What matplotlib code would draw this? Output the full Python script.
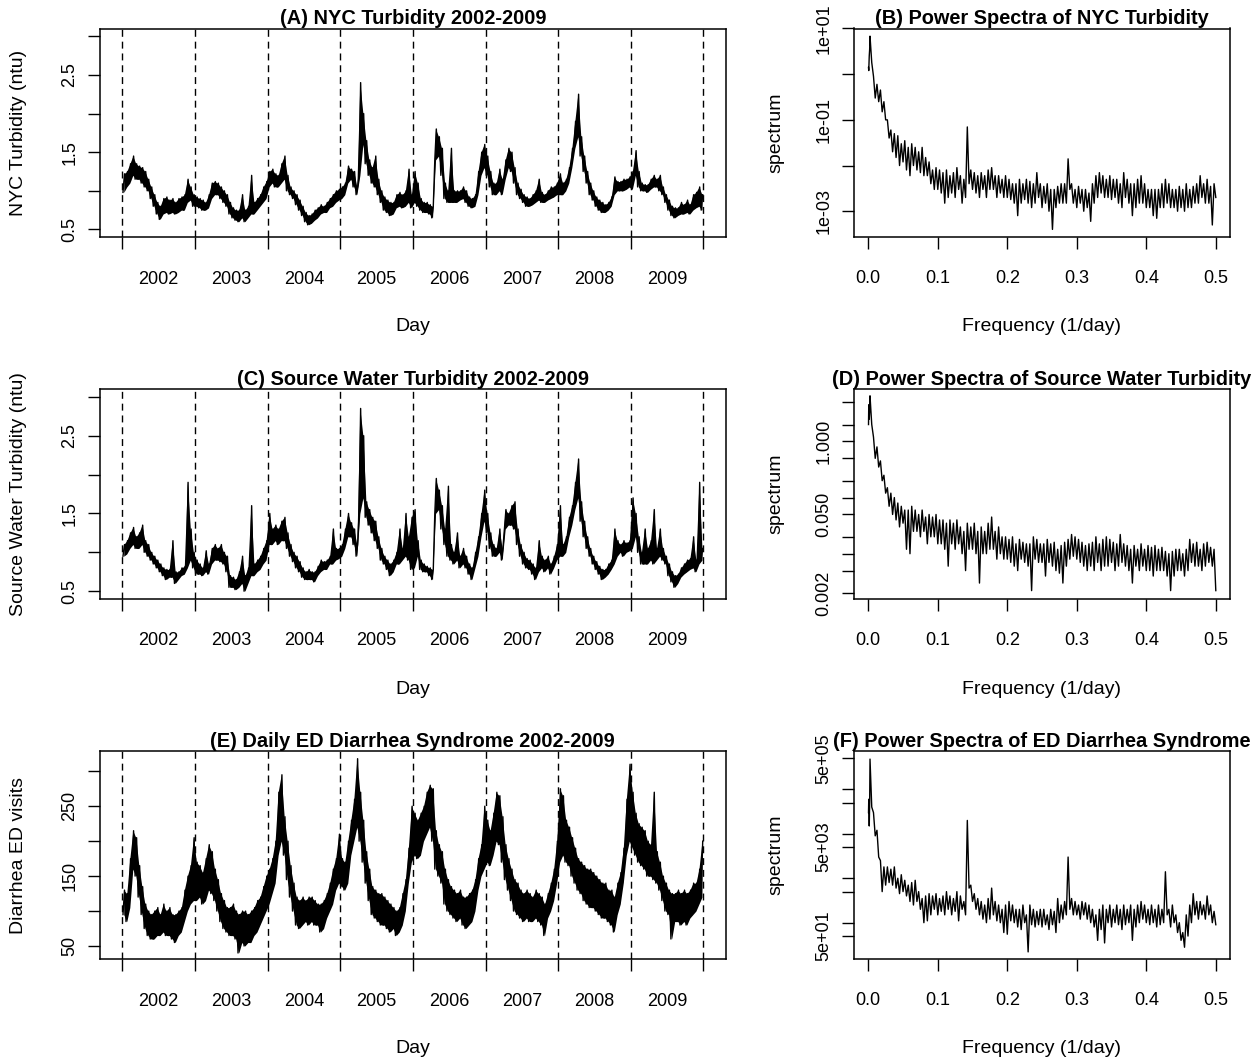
import numpy as np
import matplotlib
matplotlib.use("Agg")
import matplotlib.pyplot as plt
from matplotlib.ticker import NullLocator

plt.rcParams["font.family"] = ["Liberation Sans", "DejaVu Sans"]

years = [2002, 2003, 2004, 2005, 2006, 2007, 2008, 2009]
year_labels = [str(y) for y in years]

# daily series, read as low / high envelope per half-month (24 per year)
nyc_lo = [
    0.98, 1.05, 1.10, 1.20, 1.15, 1.15, 1.10, 1.05, 1.00, 0.90, 0.80, 0.70,
    0.63, 0.70, 0.72, 0.70, 0.72, 0.70, 0.72, 0.75, 0.75, 0.85, 0.88, 0.80,
    0.80, 0.78, 0.75, 0.75, 0.78, 0.90, 0.95, 0.95, 0.90, 0.85, 0.80, 0.70,
    0.65, 0.62, 0.60, 0.65, 0.60, 0.65, 0.70, 0.70, 0.75, 0.80, 0.85, 0.90,
    1.05, 1.10, 1.05, 1.05, 1.10, 1.15, 1.00, 0.95, 0.90, 0.82, 0.75, 0.68,
    0.60, 0.56, 0.58, 0.62, 0.65, 0.70, 0.72, 0.72, 0.78, 0.80, 0.85, 0.88,
    0.90, 0.95, 1.10, 1.15, 1.05, 0.95, 1.20, 1.60, 1.35, 1.20, 1.10, 1.05,
    0.95, 0.85, 0.75, 0.72, 0.68, 0.70, 0.78, 0.80, 0.78, 0.80, 0.85, 0.78,
    0.85, 0.80, 0.75, 0.72, 0.72, 0.70, 0.65, 1.40, 1.45, 1.20, 0.90, 0.85,
    0.85, 0.85, 0.85, 0.88, 0.90, 0.85, 0.80, 0.78, 0.80, 0.95, 1.20, 1.30,
    1.20, 1.05, 0.95, 0.95, 1.00, 0.95, 1.15, 1.30, 1.25, 1.10, 0.95, 0.90,
    0.85, 0.80, 0.80, 0.82, 0.85, 0.88, 0.85, 0.85, 0.88, 0.90, 0.92, 0.95,
    0.95, 0.95, 1.00, 1.10, 1.30, 1.55, 1.70, 1.45, 1.25, 1.10, 0.95, 0.88,
    0.80, 0.75, 0.72, 0.72, 0.75, 0.80, 0.95, 1.00, 1.00, 1.00, 1.02, 1.05,
    1.02, 1.20, 1.05, 1.00, 1.00, 0.98, 1.02, 1.05, 1.05, 1.00, 0.95, 0.85,
    0.75, 0.68, 0.65, 0.68, 0.70, 0.70, 0.72, 0.70, 0.75, 0.78, 0.80, 0.75,
]
nyc_hi = [
    1.22, 1.25, 1.35, 1.45, 1.35, 1.32, 1.30, 1.25, 1.15, 1.05, 0.95, 0.85,
    0.80, 0.90, 0.92, 0.88, 0.90, 0.85, 0.90, 0.92, 0.95, 1.15, 1.05, 0.95,
    0.92, 0.90, 0.88, 0.85, 0.95, 1.10, 1.12, 1.10, 1.05, 1.00, 0.95, 0.85,
    0.78, 0.75, 0.75, 0.95, 0.75, 0.80, 1.20, 0.85, 0.90, 0.95, 1.05, 1.12,
    1.25, 1.28, 1.22, 1.20, 1.35, 1.45, 1.20, 1.05, 1.00, 0.95, 0.88, 0.80,
    0.72, 0.68, 0.70, 0.75, 0.78, 0.82, 0.80, 0.85, 0.90, 0.95, 1.00, 1.02,
    1.05, 1.10, 1.32, 1.28, 1.25, 1.05, 2.40, 2.00, 1.65, 1.40, 1.30, 1.45,
    1.15, 1.00, 0.92, 0.88, 0.85, 0.85, 0.95, 0.98, 0.95, 1.00, 1.28, 0.95,
    1.25, 1.10, 0.90, 0.85, 0.85, 0.82, 0.80, 1.80, 1.70, 1.55, 1.10, 1.00,
    1.55, 1.00, 1.00, 1.00, 1.05, 1.00, 0.92, 0.90, 0.95, 1.25, 1.50, 1.60,
    1.45, 1.25, 1.10, 1.10, 1.28, 1.15, 1.40, 1.55, 1.50, 1.30, 1.10, 1.02,
    0.95, 0.92, 0.90, 0.95, 1.00, 1.15, 0.98, 0.95, 1.00, 1.05, 1.05, 1.10,
    1.22, 1.10, 1.15, 1.30, 1.55, 1.90, 2.25, 1.70, 1.45, 1.25, 1.10, 1.00,
    0.92, 0.88, 0.85, 0.82, 0.85, 0.92, 1.18, 1.12, 1.12, 1.15, 1.15, 1.18,
    1.25, 1.52, 1.25, 1.10, 1.08, 1.08, 1.15, 1.20, 1.15, 1.20, 1.05, 0.95,
    0.88, 0.80, 0.78, 0.78, 0.85, 0.82, 0.88, 0.82, 0.95, 0.98, 1.05, 0.95,
]

src_lo = [
    0.95, 0.98, 1.05, 1.10, 1.05, 1.05, 1.10, 1.00, 0.95, 0.90, 0.85, 0.80,
    0.75, 0.70, 0.65, 0.68, 0.68, 0.60, 0.65, 0.70, 0.72, 0.80, 0.90, 0.80,
    0.72, 0.72, 0.70, 0.75, 0.72, 0.85, 0.90, 0.90, 0.88, 0.85, 0.75, 0.55,
    0.55, 0.52, 0.55, 0.60, 0.50, 0.60, 0.70, 0.70, 0.75, 0.78, 0.85, 0.90,
    1.10, 1.10, 1.15, 1.10, 1.15, 1.15, 1.05, 0.95, 0.88, 0.80, 0.75, 0.68,
    0.65, 0.65, 0.65, 0.62, 0.70, 0.75, 0.78, 0.78, 0.85, 0.85, 0.90, 0.92,
    0.95, 1.05, 1.20, 1.20, 1.10, 0.95, 1.50, 1.70, 1.45, 1.35, 1.25, 1.15,
    1.05, 0.90, 0.85, 0.78, 0.70, 0.75, 0.85, 0.85, 0.90, 0.95, 0.90, 0.78,
    0.80, 0.95, 0.78, 0.75, 0.75, 0.70, 0.65, 1.50, 1.55, 1.30, 1.10, 0.95,
    0.90, 0.85, 0.90, 0.80, 0.85, 0.80, 0.72, 0.65, 0.80, 0.95, 1.20, 1.40,
    1.25, 1.05, 0.95, 0.95, 1.00, 0.90, 1.30, 1.35, 1.35, 1.30, 1.10, 0.95,
    0.85, 0.80, 0.78, 0.72, 0.65, 0.75, 0.80, 0.75, 0.80, 0.72, 0.80, 0.90,
    0.95, 0.95, 1.00, 1.20, 1.35, 1.55, 1.70, 1.40, 1.20, 1.05, 0.95, 0.85,
    0.78, 0.72, 0.65, 0.68, 0.72, 0.78, 0.85, 0.95, 1.00, 0.95, 1.00, 1.02,
    1.05, 1.20, 1.00, 0.85, 0.85, 0.85, 0.90, 0.85, 0.90, 0.95, 0.90, 0.85,
    0.70, 0.62, 0.55, 0.60, 0.68, 0.72, 0.75, 0.78, 0.80, 0.75, 0.85, 0.90,
]
src_hi = [
    1.10, 1.15, 1.25, 1.32, 1.20, 1.25, 1.35, 1.15, 1.10, 1.00, 0.95, 0.90,
    0.85, 0.80, 0.78, 0.78, 1.15, 0.75, 0.75, 0.80, 0.82, 1.90, 1.30, 1.00,
    0.90, 0.85, 0.80, 1.02, 0.85, 1.05, 1.10, 1.05, 1.10, 1.00, 0.95, 0.70,
    0.68, 0.65, 0.75, 0.95, 0.70, 0.80, 1.60, 0.85, 0.90, 0.95, 1.05, 1.15,
    1.50, 1.30, 1.35, 1.30, 1.40, 1.45, 1.25, 1.10, 1.00, 0.95, 0.88, 0.80,
    0.75, 0.78, 0.75, 0.75, 0.82, 0.90, 0.88, 0.90, 0.95, 1.30, 1.05, 1.05,
    1.10, 1.30, 1.50, 1.38, 1.30, 1.10, 2.85, 2.50, 1.65, 1.55, 1.45, 1.40,
    1.20, 1.05, 0.95, 0.90, 0.85, 0.90, 1.00, 1.30, 1.05, 1.50, 1.20, 1.45,
    1.55, 1.15, 0.90, 0.85, 0.82, 0.80, 0.78, 1.95, 1.80, 1.60, 1.30, 1.85,
    1.10, 1.00, 1.25, 0.95, 1.05, 0.95, 0.85, 0.80, 1.00, 1.20, 1.50, 1.80,
    1.50, 1.25, 1.10, 1.05, 1.30, 1.05, 1.55, 1.50, 1.60, 1.65, 1.30, 1.10,
    1.00, 0.92, 0.90, 0.85, 0.80, 1.15, 0.95, 0.90, 0.95, 0.85, 0.95, 1.10,
    1.60, 1.10, 1.20, 1.45, 1.60, 1.90, 2.20, 1.65, 1.40, 1.20, 1.05, 0.95,
    0.88, 0.82, 0.78, 0.78, 0.85, 0.90, 1.30, 1.15, 1.10, 1.15, 1.12, 1.15,
    1.70, 1.50, 1.20, 1.00, 1.30, 1.05, 1.15, 1.55, 1.05, 1.30, 1.05, 0.95,
    0.85, 0.75, 0.70, 0.72, 0.80, 0.85, 0.90, 0.92, 1.20, 0.90, 1.90, 1.05,
]

ed_lo = [
    95, 85, 105, 160, 150, 120, 95, 75, 65, 60, 60, 65,
    65, 70, 65, 65, 60, 55, 65, 70, 85, 100, 110, 115,
    115, 120, 110, 115, 130, 125, 115, 100, 85, 75, 70, 65,
    65, 60, 40, 55, 50, 55, 55, 65, 70, 80, 90, 100,
    110, 125, 140, 180, 200, 180, 145, 120, 100, 80, 75, 80,
    85, 80, 85, 80, 80, 70, 75, 90, 100, 110, 130, 140,
    135, 130, 140, 180, 200, 220, 200, 170, 140, 115, 95, 90,
    85, 80, 80, 75, 70, 75, 65, 70, 80, 100, 140, 170,
    180, 175, 180, 200, 210, 220, 200, 160, 150, 140, 110, 100,
    95, 90, 85, 90, 80, 75, 80, 85, 100, 130, 150, 160,
    170, 165, 180, 200, 195, 170, 145, 130, 115, 100, 95, 90,
    85, 90, 85, 85, 90, 85, 80, 65, 90, 100, 115, 140,
    170, 180, 170, 165, 150, 140, 130, 125, 115, 110, 105, 105,
    100, 95, 90, 90, 85, 80, 70, 95, 110, 140, 180, 200,
    190, 180, 170, 165, 160, 150, 150, 145, 140, 130, 115, 100,
    95, 60, 85, 85, 80, 85, 80, 90, 95, 100, 110, 120,
]
ed_hi = [
    130, 125, 175, 215, 205, 165, 135, 110, 100, 95, 100, 105,
    95, 110, 100, 105, 95, 95, 100, 105, 130, 150, 165, 205,
    170, 165, 155, 175, 195, 185, 160, 145, 125, 115, 105, 105,
    110, 100, 95, 100, 100, 95, 100, 105, 115, 120, 135, 150,
    160, 175, 200, 270, 295, 235, 200, 165, 140, 120, 115, 120,
    115, 120, 120, 115, 110, 110, 115, 125, 140, 160, 175, 210,
    175, 170, 200, 230, 260, 318, 270, 230, 185, 160, 135, 130,
    125, 125, 120, 115, 110, 105, 100, 105, 125, 145, 190, 250,
    240, 230, 240, 250, 270, 280, 275, 215, 195, 185, 160, 145,
    135, 130, 125, 130, 120, 120, 125, 130, 145, 175, 195, 250,
    230, 215, 240, 270, 265, 235, 195, 175, 160, 145, 140, 130,
    125, 130, 125, 120, 130, 125, 120, 110, 125, 140, 160, 200,
    275, 265, 230, 220, 205, 190, 175, 170, 165, 160, 160, 155,
    150, 145, 140, 140, 130, 130, 120, 140, 155, 190, 260, 310,
    270, 240, 225, 220, 215, 200, 195, 270, 185, 170, 150, 140,
    130, 125, 125, 130, 125, 130, 125, 130, 140, 140, 160, 200,
]

# power spectra: a few lowest frequencies, then high / low envelope per 0.005 bin
spec_freq_low = [0.00034, 0.0007, 0.0014, 0.0020]
nyc_spec_low = [1.4, 1.2, 2.5, 3.5]
src_spec_low = [2.0, 4.5, 2.5, 3.5]
ed_spec_low = [30000, 60000, 15000, 50000]

nyc_spec_hi = [
    6.8, 0.9, 0.6, 0.45, 0.25, 0.1, 0.06, 0.05, 0.045, 0.03,
    0.035, 0.025, 0.03, 0.025, 0.02, 0.025, 0.015, 0.012, 0.008, 0.009,
    0.008, 0.007, 0.008, 0.006, 0.007, 0.009, 0.006, 0.005, 0.07, 0.008,
    0.007, 0.006, 0.007, 0.006, 0.008, 0.009, 0.006, 0.006, 0.005, 0.006,
    0.005, 0.004, 0.004, 0.005, 0.004, 0.005, 0.0045, 0.004, 0.007, 0.004,
    0.0035, 0.004, 0.003, 0.003, 0.0035, 0.004, 0.004, 0.014, 0.004, 0.003,
    0.0035, 0.003, 0.003, 0.0025, 0.004, 0.006, 0.007, 0.006, 0.005, 0.006,
    0.005, 0.005, 0.004, 0.007, 0.005, 0.004, 0.004, 0.005, 0.006, 0.004,
    0.003, 0.003, 0.003, 0.003, 0.004, 0.005, 0.004, 0.003, 0.003, 0.0035,
    0.003, 0.004, 0.003, 0.0035, 0.004, 0.006, 0.004, 0.005, 0.0035, 0.004,
]
nyc_spec_lo = [
    1.8, 0.3, 0.25, 0.15, 0.1, 0.04, 0.02, 0.015, 0.01, 0.012,
    0.008, 0.006, 0.01, 0.008, 0.007, 0.006, 0.006, 0.004, 0.003, 0.003,
    0.0025, 0.0015, 0.002, 0.0025, 0.002, 0.003, 0.0015, 0.002, 0.004, 0.003,
    0.0025, 0.002, 0.003, 0.002, 0.003, 0.003, 0.002, 0.0025, 0.002, 0.002,
    0.0018, 0.0015, 0.0008, 0.0015, 0.0018, 0.0015, 0.0012, 0.0015, 0.002, 0.0012,
    0.0015, 0.001, 0.0004, 0.0012, 0.0015, 0.0015, 0.0015, 0.003, 0.0015, 0.0012,
    0.0015, 0.001, 0.0012, 0.0006, 0.0015, 0.002, 0.0025, 0.002, 0.002, 0.0018,
    0.002, 0.0015, 0.0012, 0.002, 0.0015, 0.0008, 0.0012, 0.0015, 0.0015, 0.0012,
    0.0012, 0.0008, 0.0007, 0.0012, 0.0012, 0.0015, 0.0012, 0.0012, 0.001, 0.0012,
    0.001, 0.0012, 0.0012, 0.0015, 0.0015, 0.002, 0.0015, 0.0015, 0.0005, 0.002,
]
src_spec_hi = [
    6.5, 1.2, 0.8, 0.45, 0.25, 0.15, 0.12, 0.1, 0.08, 0.07,
    0.06, 0.06, 0.07, 0.06, 0.05, 0.06, 0.045, 0.05, 0.045, 0.05,
    0.04, 0.04, 0.035, 0.04, 0.035, 0.04, 0.03, 0.025, 0.035, 0.03,
    0.035, 0.025, 0.03, 0.025, 0.035, 0.045, 0.025, 0.03, 0.02, 0.02,
    0.018, 0.02, 0.015, 0.018, 0.016, 0.015, 0.015, 0.02, 0.018, 0.015,
    0.015, 0.018, 0.015, 0.016, 0.012, 0.014, 0.016, 0.018, 0.022, 0.02,
    0.018, 0.016, 0.014, 0.015, 0.016, 0.02, 0.015, 0.018, 0.02, 0.018,
    0.016, 0.015, 0.022, 0.015, 0.014, 0.012, 0.014, 0.012, 0.015, 0.012,
    0.014, 0.013, 0.014, 0.012, 0.013, 0.011, 0.01, 0.011, 0.012, 0.012,
    0.01, 0.012, 0.018, 0.015, 0.016, 0.012, 0.015, 0.016, 0.013, 0.012,
]
src_spec_lo = [
    2.0, 0.5, 0.35, 0.2, 0.12, 0.07, 0.05, 0.04, 0.03, 0.035,
    0.012, 0.01, 0.025, 0.025, 0.02, 0.025, 0.015, 0.02, 0.02, 0.015,
    0.015, 0.012, 0.006, 0.015, 0.012, 0.015, 0.01, 0.005, 0.012, 0.012,
    0.01, 0.003, 0.01, 0.01, 0.012, 0.012, 0.008, 0.01, 0.008, 0.008,
    0.007, 0.006, 0.005, 0.008, 0.007, 0.006, 0.0022, 0.008, 0.007, 0.007,
    0.004, 0.007, 0.006, 0.005, 0.0045, 0.003, 0.006, 0.008, 0.009, 0.008,
    0.007, 0.006, 0.005, 0.006, 0.005, 0.007, 0.005, 0.006, 0.006, 0.007,
    0.005, 0.006, 0.007, 0.006, 0.005, 0.003, 0.006, 0.005, 0.006, 0.005,
    0.005, 0.004, 0.005, 0.005, 0.005, 0.004, 0.0022, 0.004, 0.005, 0.005,
    0.004, 0.005, 0.007, 0.006, 0.006, 0.005, 0.006, 0.007, 0.006, 0.0022,
]
ed_spec_hi = [
    480000, 30000, 12000, 2500, 1800, 1800, 1600, 1800, 1000, 1200,
    900, 700, 800, 900, 500, 350, 400, 450, 400, 450,
    350, 400, 500, 400, 350, 500, 400, 300, 20000, 700,
    450, 350, 300, 250, 350, 600, 300, 250, 200, 250,
    300, 250, 200, 200, 250, 150, 250, 200, 180, 200,
    200, 150, 200, 180, 350, 250, 300, 3000, 350, 300,
    250, 300, 280, 250, 200, 150, 200, 250, 200, 250,
    200, 250, 200, 250, 200, 250, 200, 250, 300, 250,
    200, 250, 200, 250, 200, 1400, 200, 250, 150, 100,
    60, 150, 250, 450, 300, 300, 250, 400, 250, 180,
]
ed_spec_lo = [
    40000, 9000, 3000, 500, 700, 800, 700, 600, 450, 500,
    400, 300, 250, 300, 200, 100, 110, 150, 200, 150,
    180, 150, 200, 150, 180, 110, 200, 150, 600, 300,
    200, 150, 120, 100, 120, 150, 110, 100, 60, 55,
    110, 100, 80, 70, 100, 22, 90, 80, 90, 80,
    90, 70, 90, 60, 100, 120, 150, 200, 150, 150,
    120, 150, 120, 100, 80, 40, 70, 35, 100, 80,
    100, 90, 70, 90, 100, 40, 80, 100, 120, 100,
    90, 100, 80, 90, 100, 150, 80, 100, 60, 40,
    28, 50, 100, 150, 120, 150, 120, 150, 100, 90,
]


def half_month_times(n):
    mid = years[0] + (np.arange(n) + 0.5) / 24
    t = np.empty(2 * n)
    t[0::2] = years[0] + (np.arange(n) + 0.25) / 24
    t[1::2] = years[0] + (np.arange(n) + 0.75) / 24
    return mid, t


def interleave(a, b):
    out = np.empty(len(a) + len(b))
    out[0::2] = a
    out[1::2] = b
    return out


def spectrum(low, hi, lo):
    k = np.arange(len(hi))
    f_hi = 0.0025 + 0.005 * k
    f_lo = 0.005 * (k + 1)
    f = np.concatenate([spec_freq_low, interleave(f_hi, f_lo)])
    s = np.concatenate([low, interleave(hi, lo)])
    return f, s


FS_TICK = 13
FS_LAB = 14
FS_TITLE = 14.4
dash = (0, (5, 3.5))


def time_panel(ax, lo, hi, title, ylabel, yticks, ylim):
    mid, t = half_month_times(len(lo))
    ax.fill_between(mid, lo, hi, color="black", lw=0)
    ax.plot(t, interleave(lo, hi), color="black", lw=1.0)
    for y in range(2002, 2011):
        ax.axvline(y, color="black", ls=dash, lw=1.0)
    ax.set_xlim(2001.694, 2010.306)
    ax.set_ylim(*ylim)
    ax.set_xticks(range(2002, 2011))
    ax.set_xticklabels([])
    ax.set_xticks([y + 0.5 for y in years], minor=True)
    ax.set_xticklabels(year_labels, minor=True, fontsize=FS_TICK)
    ax.tick_params(axis="x", which="minor", length=0, pad=24)
    ax.tick_params(axis="x", which="major", length=8.6, width=1.0)
    ax.set_yticks(yticks)
    ax.set_yticklabels([str(tk) if i % 2 == 0 else "" for i, tk in enumerate(yticks)],
                       fontsize=FS_TICK, rotation=90, va="center")
    ax.tick_params(axis="y", length=8.6, width=1.0, pad=7)
    ax.set_title(title, fontsize=FS_TITLE, fontweight="bold", pad=1)
    ax.text(0.5, -0.43, "Day", transform=ax.transAxes, ha="center", va="center",
            fontsize=FS_LAB)
    ax.text(-0.131, 0.5, ylabel, transform=ax.transAxes, rotation=90,
            ha="center", va="center", fontsize=FS_LAB)


def spec_panel(ax, f, s, title, yticks, ylabels, ylim):
    ax.plot(f, s, color="black", lw=1.0)
    ax.set_yscale("log")
    ax.set_xlim(-0.0201, 0.520)
    ax.set_ylim(*ylim)
    ax.set_xticks([0.0, 0.1, 0.2, 0.3, 0.4, 0.5])
    ax.set_xticklabels(["0.0", "0.1", "0.2", "0.3", "0.4", "0.5"], fontsize=FS_TICK)
    ax.tick_params(axis="x", length=8.6, width=1.0, pad=15)
    ax.set_yticks(yticks)
    ax.yaxis.set_minor_locator(NullLocator())
    ax.set_yticklabels(ylabels, fontsize=FS_TICK, rotation=90, va="center")
    ax.tick_params(axis="y", length=8.6, width=1.0, pad=7)
    ax.set_title(title, fontsize=FS_TITLE, fontweight="bold", pad=1)
    ax.text(0.5, -0.43, "Frequency (1/day)", transform=ax.transAxes,
            ha="center", va="center", fontsize=FS_LAB)
    ax.text(-0.21, 0.5, "spectrum", transform=ax.transAxes, rotation=90,
            ha="center", va="center", fontsize=FS_LAB)


fig = plt.figure(figsize=(12.54, 10.59), dpi=100)
W, H = 1254.0, 1059.0


def box(x0, x1, y0, y1):
    return [x0 / W, 1 - y1 / H, (x1 - x0) / W, (y1 - y0) / H]


rows = [(28.5, 237.2), (389.0, 599.0), (751.0, 959.3)]
left_axes = [fig.add_axes(box(100, 725.7, *r)) for r in rows]
right_axes = [fig.add_axes(box(854.3, 1229.7, *r)) for r in rows]

for ax in left_axes + right_axes:
    for sp in ax.spines.values():
        sp.set_linewidth(1.1)

turb_ticks = [0.5, 1.0, 1.5, 2.0, 2.5, 3.0]
time_panel(left_axes[0], nyc_lo, nyc_hi, "(A) NYC Turbidity 2002-2009",
           "NYC Turbidity (ntu)", turb_ticks, (0.40, 3.10))
time_panel(left_axes[1], src_lo, src_hi, "(C) Source Water Turbidity 2002-2009",
           "Source Water Turbidity (ntu)", turb_ticks, (0.40, 3.10))
time_panel(left_axes[2], ed_lo, ed_hi, "(E) Daily ED Diarrhea Syndrome 2002-2009",
           "Diarrhea ED visits", [50, 100, 150, 200, 250, 300], (31, 329))

f, s = spectrum(nyc_spec_low, nyc_spec_hi, nyc_spec_lo)
spec_panel(right_axes[0], f, s, "(B) Power Spectra of NYC Turbidity",
           [1e-3, 1e-2, 1e-1, 1e0, 1e1], ["1e-03", "", "1e-01", "", "1e+01"],
           (2.7e-4, 10.0))
f, s = spectrum(src_spec_low, src_spec_hi, src_spec_lo)
spec_panel(right_axes[1], f, s, "(D) Power Spectra of Source Water Turbidity",
           [0.002, 0.005, 0.01, 0.02, 0.05, 0.1, 0.2, 0.5, 1, 2, 5],
           ["0.002", "", "", "", "0.050", "", "", "", "1.000", "", ""],
           (0.00156, 8.6))
f, s = spectrum(ed_spec_low, ed_spec_hi, ed_spec_lo)
spec_panel(right_axes[2], f, s, "(F) Power Spectra of ED Diarrhea Syndrome",
           [5e1, 1e2, 5e2, 1e3, 5e3, 1e4, 5e4, 1e5, 5e5],
           ["5e+01", "", "", "", "5e+03", "", "", "", "5e+05"],
           (15, 7.3e5))

fig.savefig("out.png", dpi=100)
